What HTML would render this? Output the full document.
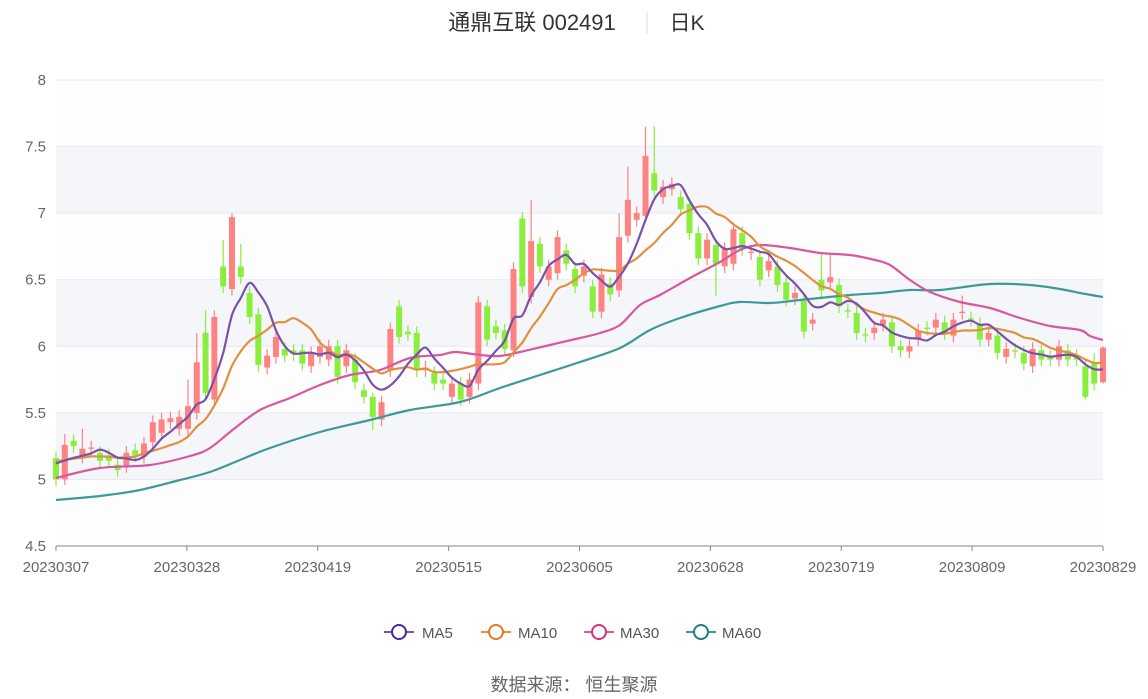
<!DOCTYPE html>
<html><head><meta charset="utf-8">
<style>
html,body{margin:0;padding:0;background:#fff;}
body{width:1148px;height:699px;overflow:hidden;font-family:"Liberation Sans","Noto Sans CJK SC",sans-serif;}
</style></head>
<body>
<svg id="c" width="1148" height="699" xmlns="http://www.w3.org/2000/svg" style="display:block">
<text x="532" y="30" text-anchor="middle" font-size="22" fill="#333" font-family="Liberation Sans, Noto Sans CJK SC, sans-serif">通鼎互联 002491</text>
<line x1="647" y1="12" x2="647" y2="34" stroke="#ddd" stroke-width="1"/>
<text x="687" y="30" text-anchor="middle" font-size="21" fill="#333" font-family="Liberation Sans, Noto Sans CJK SC, sans-serif">日K</text>
<g id="plot"></g>
<g font-size="15" fill="#555" font-family="Liberation Sans, Noto Sans CJK SC, sans-serif">
<line x1="384" y1="632" x2="414" y2="632" stroke="#7b52ab" stroke-width="2"/><circle cx="399" cy="632" r="7" fill="#fff" stroke="#4b2a8f" stroke-width="2"/><text x="422" y="638">MA5</text>
<line x1="481" y1="632" x2="511" y2="632" stroke="#e0913f" stroke-width="2"/><circle cx="496" cy="632" r="7" fill="#fff" stroke="#e07a1f" stroke-width="2"/><text x="518" y="638">MA10</text>
<line x1="584" y1="632" x2="614" y2="632" stroke="#d9579e" stroke-width="2"/><circle cx="599" cy="632" r="7" fill="#fff" stroke="#d0348a" stroke-width="2"/><text x="620" y="638">MA30</text>
<line x1="686" y1="632" x2="716" y2="632" stroke="#3d9a98" stroke-width="2"/><circle cx="701" cy="632" r="7" fill="#fff" stroke="#237f7d" stroke-width="2"/><text x="722" y="638">MA60</text>
</g>
<text x="574" y="691" text-anchor="middle" font-size="18" fill="#666" font-family="Liberation Sans, Noto Sans CJK SC, sans-serif">数据来源：  恒生聚源</text>
</svg>
<script>
var NS="http://www.w3.org/2000/svg";
var g=document.getElementById("plot");
function Y(v){return 80+(8-v)*133.14;}
function el(t,a,p){var e=document.createElementNS(NS,t);for(var k in a)e.setAttribute(k,a[k]);(p||g).appendChild(e);return e;}
var L=56,R=1103;
el("rect",{x:L,y:Y(8),width:R-L,height:Y(4.5)-Y(8),fill:"#fdfdfe"});
[[7.5,7],[6.5,6],[5.5,5]].forEach(function(b){el("rect",{x:L,y:Y(b[0]),width:R-L,height:Y(b[1])-Y(b[0]),fill:"#f5f6fa"});});
for(var v=4.5;v<=8.001;v+=0.5){
  if(v>4.6) el("line",{x1:L,y1:Y(v),x2:R,y2:Y(v),stroke:"#e6e8f0","stroke-width":1});
  var t=el("text",{x:46,y:Y(v)+5,"text-anchor":"end","font-size":15,fill:"#666"});t.textContent=(v%1===0?v.toFixed(0):v.toFixed(1));
}
el("line",{x1:L,y1:Y(4.5),x2:R,y2:Y(4.5),stroke:"#888","stroke-width":1});
var labs=["20230307","20230328","20230419","20230515","20230605","20230628","20230719","20230809","20230829"];
labs.forEach(function(s,i){var x=L+i*(R-L)/8;el("line",{x1:x,y1:Y(4.5),x2:x,y2:Y(4.5)+5,stroke:"#888"});
 var t=el("text",{x:x,y:572,"text-anchor":"middle","font-size":15,fill:"#666"});t.textContent=s;});
var D=[[5.16,5.0],[5.0,5.26,5.34,4.96],[5.29,5.25],[5.17,5.23,5.38],[5.23,5.24],[5.2,5.14],[5.18,5.14],[5.11,5.07],[5.1,5.2],[5.22,5.18],
[5.17,5.27],[5.28,5.43],[5.35,5.45],[5.43,5.46],[5.38,5.47],[5.38,5.55,5.75],[5.5,5.88,6.1],[6.1,5.65,6.27],[5.6,6.22],[6.6,6.45,6.8],
[6.43,6.97,7.0],[6.6,6.52,6.77],[6.4,6.22],[6.24,5.86],[5.84,5.93],[5.92,6.07],[5.98,5.93],[5.97,5.94],[5.97,5.87],[5.85,5.95],
[5.92,6.0],[5.9,6.0],[6.0,5.77],[5.85,5.97],[5.9,5.73],[5.67,5.62],[5.62,5.47,5.65,5.37],[5.45,5.58],[5.82,6.13],[6.3,6.07],
[6.11,6.09],[6.1,5.82],[5.82,5.84],[5.8,5.72],[5.75,5.72],[5.62,5.72],[5.72,5.6],[5.62,5.75],[5.72,6.33],[6.3,6.05],
[6.15,6.1],[6.12,5.98],[5.97,6.58],[6.96,6.45],[6.37,6.79,7.1],[6.77,6.6],[6.5,6.6],[6.55,6.82],[6.72,6.62],[6.58,6.45],
[6.53,6.6],[6.45,6.26],[6.26,6.54],[6.47,6.39],[6.42,6.82,7.0],[6.83,7.1,7.35],[6.95,7.0],[6.98,7.43,7.65],[7.3,7.17,7.65],[7.12,7.2],
[7.18,7.22],[7.12,7.03],[7.07,6.85],[6.85,6.66],[6.66,6.8],[6.76,6.62,6.8,6.38],[6.6,6.73],[6.62,6.88],[6.85,6.73],[6.7,6.71],
[6.67,6.5],[6.57,6.64],[6.6,6.46],[6.48,6.35],[6.36,6.4],[6.34,6.11],[6.17,6.2],[6.5,6.42,6.7],[6.48,6.52,6.7],[6.46,6.3],
[6.27,6.26],[6.25,6.1],[6.09,6.08],[6.1,6.14],[6.16,6.2],[6.18,6.0],[6.0,5.97],[5.96,6.0],[6.05,6.12],[6.14,6.13],
[6.14,6.2],[6.18,6.1],[6.08,6.2],[6.25,6.26,6.38],[6.21,6.2],[6.17,6.05],[6.05,6.1],[6.08,5.95],[5.92,5.98],[5.97,5.96],
[5.95,5.87],[5.85,5.98],[5.97,5.9],[5.92,5.9],[5.9,6.0],[5.97,5.9],[5.93,5.9],[5.85,5.62,5.9,5.6],[5.87,5.72,5.95],[5.73,5.99,6.0,5.72]];
var n=D.length,sp=(R-L)/(n-1);
function X(i){return L+i*sp;}
D.forEach(function(d,i){var o=d[0],c=d[1],up=c>=o;var h=d[2]||Math.max(o,c)+0.05,l=d[3]||Math.min(o,c)-0.05;
 var col=up?"#ff8282":"#8aee3e";var x=X(i);
 el("line",{x1:x,y1:Y(h),x2:x,y2:Y(l),stroke:col,"stroke-width":1.2});
 var y1=Y(Math.max(o,c)),y2=Y(Math.min(o,c));el("rect",{x:x-3,y:y1,width:6,height:Math.max(1,y2-y1),fill:col});
});
function smooth(pts){var s="M"+pts[0][0]+","+pts[0][1];for(var i=0;i<pts.length-1;i++){var p0=pts[i-1]||pts[i],p1=pts[i],p2=pts[i+1],p3=pts[i+2]||p2;
 s+=" C"+(p1[0]+(p2[0]-p0[0])/6)+","+(p1[1]+(p2[1]-p0[1])/6)+" "+(p2[0]-(p3[0]-p1[0])/6)+","+(p2[1]-(p3[1]-p1[1])/6)+" "+p2[0]+","+p2[1];}return s;}
function ma(k){var p=[];for(var i=0;i<n;i++){var s=0,m=0;for(var j=i-k+1;j<=i;j++){var c=j<0?5.15:D[j][1];s+=c;m++;}p.push([X(i),Y(s/m)]);}return p;}
var m30=[[56,478],[100,468],[150,465],[190,456],[210,448],[235,428],[260,410],[290,398],[320,385],[350,375],[380,370],[410,358],[440,355],[455,352],[480,355],[500,356],[520,352],[550,345],[580,338],[600,333],[620,325],[640,305],[660,295],[690,278],[720,262],[740,250],[760,245],[790,248],[820,253],[850,255],[875,260],[890,265],[910,280],[930,292],[960,302],[990,308],[1020,318],[1050,326],[1080,330],[1090,336],[1103,340]];
var m60=[[56,500],[100,496],[140,490],[180,480],[210,472],[240,460],[270,448],[320,432],[370,420],[410,410],[460,402],[500,388],[540,375],[580,362],[620,348],[650,330],[680,318],[720,306],[740,302],[770,303],[800,300],[850,295],[880,293],[910,290],[940,290],[990,284],[1030,285],[1060,289],[1080,293],[1103,297]];
el("path",{d:smooth(m60),fill:"none",stroke:"#3d9a98","stroke-width":2.2});
el("path",{d:smooth(m30),fill:"none",stroke:"#d9579e","stroke-width":2.2});
el("path",{d:smooth(ma(10)),fill:"none",stroke:"#e0913f","stroke-width":2.2});
el("path",{d:smooth(ma(5)),fill:"none",stroke:"#7b52ab","stroke-width":2.2});
</script>
</body></html>
